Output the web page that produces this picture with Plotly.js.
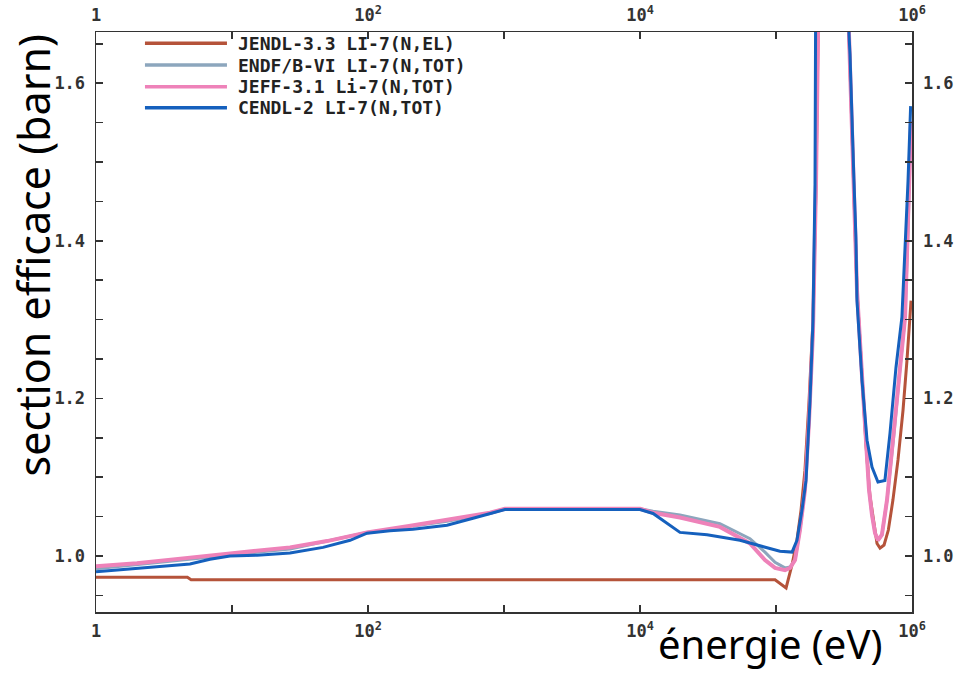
<!DOCTYPE html>
<html>
<head>
<meta charset="utf-8">
<script src="https://cdn.plot.ly/plotly-3.0.1.min.js"></script>
<style>html,body{margin:0;padding:0;background:#fff;}#chart{width:955px;height:673px;}</style>
</head>
<body>
<div id="chart"></div>
<script>
// ---- series names ----
const seriesNames = ['JENDL-3.3 LI-7(N,EL)', 'ENDF/B-VI LI-7(N,TOT)', 'JEFF-3.1 Li-7(N,TOT)', 'CENDL-2 LI-7(N,TOT)'];

// ---- JENDL-3.3 (energy eV, cross section barn) ----
const energyJENDL = [1, 4.7, 5.0, 98400, 118600, 131200, 142600, 152700, 163300, 175000, 187100, 196800, 203700, 263000, 344000, 375000, 394000, 429000, 459000, 490000, 526000, 553000, 582000, 623000, 670000, 724000, 789000, 859000, 918000, 984000];
const xsJENDL = [0.973, 0.973, 0.970, 0.970, 0.9595, 0.989, 1.020, 1.058, 1.109, 1.197, 1.299, 1.472, 1.663, 8.0, 1.663, 1.472, 1.337, 1.229, 1.141, 1.077, 1.039, 1.016, 1.010, 1.014, 1.033, 1.071, 1.122, 1.185, 1.248, 1.324];

// ---- ENDF/B-VI ----
const energyENDF = [1, 4.91, 26.7, 98.4, 381, 789, 1016, 10000, 12470, 19680, 38700, 64400, 83000, 98400, 116400, 126800, 138000, 150000, 163300, 175000, 187100, 196800, 203700, 263000, 344000, 375000, 394000, 429000, 459000, 483000, 508000, 535000, 562000, 601000, 655000, 738000, 817000, 889000, 935000, 984000];
const xsENDF = [0.984, 0.996, 1.009, 1.030, 1.044, 1.054, 1.060, 1.060, 1.057, 1.052, 1.041, 1.022, 1.005, 0.992, 0.985, 0.986, 0.995, 1.033, 1.084, 1.172, 1.286, 1.472, 1.663, 8.0, 1.663, 1.472, 1.337, 1.229, 1.147, 1.084, 1.052, 1.029, 1.020, 1.027, 1.071, 1.156, 1.239, 1.303, 1.413, 1.552];

// ---- JEFF-3.1 ----
const energyJEFF = [1, 2, 4.91, 10, 26.7, 50, 98.4, 200, 381, 789, 1016, 10000, 12470, 19680, 38700, 64400, 83000, 98400, 116400, 126800, 138000, 150000, 163300, 175000, 187100, 196800, 203700, 263000, 344000, 375000, 394000, 429000, 459000, 483000, 508000, 535000, 562000, 601000, 655000, 738000, 817000, 889000, 935000, 984000];
const xsJEFF = [0.987, 0.991, 0.998, 1.003, 1.011, 1.019, 1.030, 1.038, 1.046, 1.055, 1.060, 1.060, 1.055, 1.049, 1.037, 1.016, 0.995, 0.985, 0.982, 0.985, 0.995, 1.033, 1.084, 1.172, 1.286, 1.472, 1.663, 8.0, 1.663, 1.472, 1.337, 1.229, 1.147, 1.084, 1.052, 1.029, 1.020, 1.027, 1.071, 1.156, 1.239, 1.303, 1.413, 1.552];

// ---- CENDL-2 ----
const energyCENDL = [1, 1.38, 2.81, 4.91, 6.89, 9.66, 15.3, 26.7, 46.7, 73.8, 98.4, 145, 214, 381, 592, 789, 1016, 10000, 12470, 19680, 31120, 54330, 85900, 106900, 131200, 142600, 155200, 166300, 177800, 187100, 193600, 200000, 263000, 344000, 350000, 375000, 387000, 394000, 429000, 467000, 508000, 562000, 632000, 689000, 762000, 843000, 889000, 935000, 977000];
const xsCENDL = [0.980, 0.982, 0.986, 0.990, 0.996, 1.000, 1.001, 1.004, 1.011, 1.020, 1.029, 1.032, 1.034, 1.039, 1.048, 1.054, 1.059, 1.059, 1.054, 1.030, 1.027, 1.020, 1.010, 1.006, 1.005, 1.020, 1.058, 1.096, 1.197, 1.299, 1.472, 1.663, 8.0, 1.663, 1.637, 1.472, 1.404, 1.324, 1.223, 1.147, 1.113, 1.094, 1.096, 1.156, 1.239, 1.303, 1.387, 1.476, 1.571];

// ---- ticks ----
const xTickVals = [1, 100, 10000, 1000000];
const xTickText = ['1', '10<sup>2</sup>', '10<sup>4</sup>', '10<sup>6</sup>'];
const xMinorVals = [10, 1000, 100000];
const yTickVals = [1.0, 1.2, 1.4, 1.6];
const yTickText = ['1.0', '1.2', '1.4', '1.6'];
const yMinorVals = [0.95, 1.05, 1.1, 1.15, 1.25, 1.3, 1.35, 1.45, 1.5, 1.55, 1.65];

const xTitle = 'énergie (eV)';
const yTitle = 'section efficace (barn)';

const colors = ['#b5533a', '#8ca6bd', '#ee82b9', '#1560bd'];
const widths = [3, 3, 4, 3];
const energies = [energyJENDL, energyENDF, energyJEFF, energyCENDL];
const values = [xsJENDL, xsENDF, xsJEFF, xsCENDL];

const traces = seriesNames.map((name, i) => ({
  type: 'scatter', mode: 'lines', name: name,
  x: energies[i], y: values[i],
  line: {color: colors[i], width: widths[i]},
  showlegend: false, hoverinfo: 'skip'
}));
// empty trace so that the mirrored top/right axes are drawn
traces.push({type: 'scatter', mode: 'lines', x: [], y: [], xaxis: 'x2', yaxis: 'y2', showlegend: false, hoverinfo: 'skip'});

const tickFont = {family: 'DejaVu Sans Mono', size: 17, color: '#333', weight: 'bold'};
const xAxisBase = {
  type: 'log', range: [0, 6], tickmode: 'array', tickvals: xTickVals, ticktext: xTickText,
  ticks: 'inside', ticklen: 7, tickwidth: 1.5, tickcolor: '#333',
  minor: {tickmode: 'array', tickvals: xMinorVals, ticks: 'inside', ticklen: 7, tickwidth: 1.5, tickcolor: '#333', showgrid: false},
  showline: true, linecolor: '#333', linewidth: 1.5, showgrid: false, zeroline: false,
  tickfont: tickFont, ticklabelstandoff: 3
};
const yAxisBase = {
  range: [0.929, 1.665], tickmode: 'array', tickvals: yTickVals, ticktext: yTickText,
  ticks: 'inside', ticklen: 7, tickwidth: 1.5, tickcolor: '#333',
  minor: {tickmode: 'array', tickvals: yMinorVals, ticks: 'inside', ticklen: 7, tickwidth: 1.5, tickcolor: '#333', showgrid: false},
  showline: true, linecolor: '#333', linewidth: 1.5, showgrid: false, zeroline: false,
  tickfont: tickFont, ticklabelstandoff: 6
};

// legend drawn manually (long line samples like the reference)
const legendRowsY = [0.9805, 0.9431, 0.9057, 0.8695];
const shapes = seriesNames.map((n, i) => ({
  type: 'line', xref: 'paper', yref: 'paper', x0: 0.060, x1: 0.1605, y0: legendRowsY[i], y1: legendRowsY[i],
  line: {color: colors[i], width: 3.5}
}));
const annotations = seriesNames.map((n, i) => ({
  xref: 'paper', yref: 'paper', x: 0.1716, y: legendRowsY[i], xanchor: 'left', yanchor: 'middle',
  text: n, showarrow: false, font: {family: 'DejaVu Sans Mono', size: 18, color: '#222', weight: 'bold'}
}));
annotations.push({
  xref: 'paper', yref: 'paper', x: -0.077, y: 0.615, xanchor: 'center', yanchor: 'middle', textangle: -90,
  text: yTitle, showarrow: false, font: {family: 'Noto Sans', size: 43, color: '#000'}
});
annotations.push({
  xref: 'paper', yref: 'paper', x: 0.826, y: -0.054, xanchor: 'center', yanchor: 'middle',
  text: xTitle, showarrow: false, font: {family: 'Noto Sans', size: 40, color: '#000'}
});

const layout = {
  width: 955, height: 673,
  margin: {l: 96, r: 43, t: 32, b: 61},
  paper_bgcolor: '#fff', plot_bgcolor: '#fff',
  showlegend: false,
  xaxis: Object.assign({}, xAxisBase, {side: 'bottom', anchor: 'y'}),
  xaxis2: Object.assign({}, xAxisBase, {side: 'top', overlaying: 'x', anchor: 'y2'}),
  yaxis: Object.assign({}, yAxisBase, {side: 'left', anchor: 'x'}),
  yaxis2: Object.assign({}, yAxisBase, {side: 'right', overlaying: 'y', anchor: 'x2'}),
  shapes: shapes,
  annotations: annotations
};

Plotly.newPlot('chart', traces, layout, {staticPlot: true, displayModeBar: false});
</script>
</body>
</html>
